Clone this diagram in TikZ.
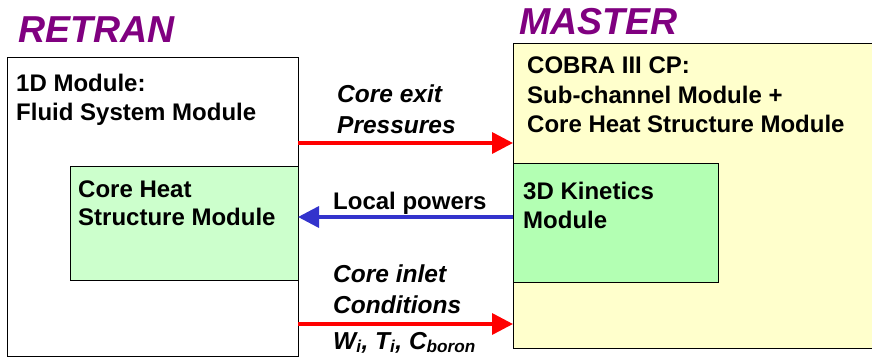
\documentclass[tikz,border=0pt]{standalone}
\usepackage{fontspec}
\setmainfont{Liberation Sans}
\usetikzlibrary{arrows.meta}
\definecolor{titlepurple}{HTML}{800080}
\definecolor{arrred}{HTML}{FF0000}
\definecolor{arrblue}{HTML}{3333CC}
\definecolor{paleyellow}{HTML}{FFFFCC}
\definecolor{palegreen}{HTML}{CCFFCC}
\definecolor{kingreen}{HTML}{B3FFB3}
\begin{document}
\begin{tikzpicture}[x=1pt,y=-1pt,
  box/.style={draw=black,line width=1.3pt},
  title/.style={anchor=base west,inner sep=0pt,text=titlepurple,font=\fontsize{37.5}{40}\selectfont\bfseries\itshape},
  lbl/.style={anchor=base west,inner sep=0pt,font=\fontsize{24}{28}\selectfont\bfseries},
  ilbl/.style={anchor=base west,inner sep=0pt,font=\fontsize{24.5}{28}\selectfont\bfseries\itshape},
  flow/.style={line width=3.5pt,-{Triangle[length=21pt,width=21pt]}}]
\useasboundingbox (0,0) rectangle (872,361);
\clip (0,0) rectangle (872,361);
% boxes
\node[box,fill=white,minimum width=291pt,minimum height=299pt,anchor=north west,inner sep=0pt] (retran) at (7,57) {};
\node[box,fill=palegreen,minimum width=228pt,minimum height=114pt,anchor=north west,inner sep=0pt] (chs) at (70,166) {};
\node[box,fill=paleyellow,minimum width=380pt,minimum height=305pt,anchor=north west,inner sep=0pt] (master) at (513,43) {};
\node[box,fill=kingreen,minimum width=205pt,minimum height=119pt,anchor=north west,inner sep=0pt] (kin) at (513,163) {};
% titles
\node[title] (tr) at (18,43) {RETRAN};
\node[title] (tm) at (519,35) {MASTER};
% box texts
\node[lbl] (t1) at (16,92) {1D Module:};
\node[lbl] (t2) at (16,120) {Fluid System Module};
\node[lbl] (t3) at (78,197) {Core Heat};
\node[lbl] (t4) at (78,225) {Structure Module};
\node[lbl] (t5) at (527,74) {COBRA III CP:};
\node[lbl] (t6) at (527,103) {Sub-channel Module +};
\node[lbl] (t7) at (527,132) {Core Heat Structure Module};
\node[lbl] (t8) at (523,199) {3D Kinetics};
\node[lbl] (t9) at (523,228) {Module};
% arrow labels
\node[ilbl] (a1) at (337,102) {Core exit};
\node[ilbl] (a2) at (337,133) {Pressures};
\node[lbl] (a3) at (333,209) {Local powers};
\node[ilbl] (a4) at (333,282) {Core inlet};
\node[ilbl] (a5) at (333,313) {Conditions};
\node[ilbl] (a6) at (333,349) {W\textsubscript{i}, T\textsubscript{i}, C\textsubscript{boron}};
% connectors
\coordinate (p1) at (298,143);
\coordinate (q1) at (513,143);
\coordinate (p2) at (513,217);
\coordinate (q2) at (298,217);
\coordinate (p3) at (298,324);
\coordinate (q3) at (513,324);
\draw[flow,draw=arrred,fill=arrred] (p1) -- (q1);
\draw[flow,draw=arrblue,fill=arrblue] (p2) -- (q2);
\draw[flow,draw=arrred,fill=arrred] (p3) -- (q3);
\end{tikzpicture}
\end{document}
